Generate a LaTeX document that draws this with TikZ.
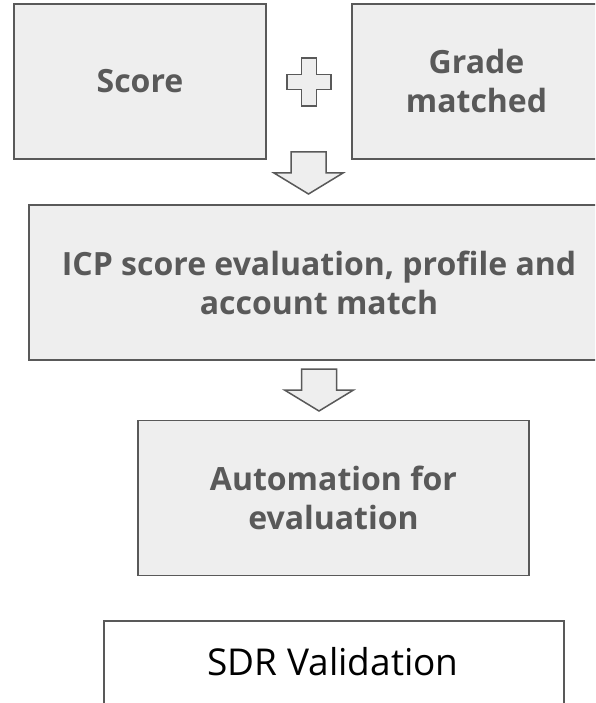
\documentclass[tikz,border=0pt]{standalone}
\usepackage{fontspec}
\setmainfont{Open Sans}
\definecolor{boxfill}{HTML}{EEEEEE}
\definecolor{boxline}{HTML}{595959}
\definecolor{txtgray}{HTML}{595959}
\begin{document}
\begin{tikzpicture}[x=1pt,y=-1pt,
  graybox/.style={draw=boxline, line width=1.5pt, fill=boxfill, inner sep=0pt,
    align=center, text=txtgray, font=\fontsize{32}{39}\selectfont\bfseries},
  whitebox/.style={draw=boxline, line width=1.5pt, fill=white, inner sep=0pt},
  blockshape/.style={draw=boxline, line width=1.5pt, fill=boxfill, line join=miter},
  downarrow/.pic={\path[blockshape] (-17.5,0) -- (17.5,0) -- (17.5,21) -- (34.5,21) -- (0,42) -- (-34.5,21) -- (-17.5,21) -- cycle;},
  plussign/.pic={\path[blockshape] (-7.5,-24) -- (7.5,-24) -- (7.5,-7.5) -- (22,-7.5) -- (22,7.5) -- (7.5,7.5) -- (7.5,24) -- (-7.5,24) -- (-7.5,7.5) -- (-22,7.5) -- (-22,-7.5) -- (-7.5,-7.5) -- cycle;}
]
\path[use as bounding box, clip] (0,0) rectangle (595,703);
\fill[white] (0,0) rectangle (595,703);

\node[graybox, minimum width=252, minimum height=155] (score) at (140,81.5) {Score};
\node[graybox, minimum width=249, minimum height=155] (grade) at (476.5,81.5) {Grade\\matched};
\node[graybox, minimum width=580, minimum height=155] (icp) at (319,282.5) {ICP score evaluation, profile and\\account match};
\node[graybox, minimum width=391, minimum height=155] (auto) at (333.5,498) {Automation for\\evaluation};
\node[whitebox, minimum width=460, minimum height=155] (sdr) at (333.75,698.5) {};
\node[font=\fontsize{37}{40}\selectfont, text=black, inner sep=0pt] (sdrtext) at (333,662) {SDR Validation};

\pic at (309,82) {plussign};
\pic at (308.5,152) {downarrow};
\pic at (319,369) {downarrow};
\end{tikzpicture}
\end{document}
